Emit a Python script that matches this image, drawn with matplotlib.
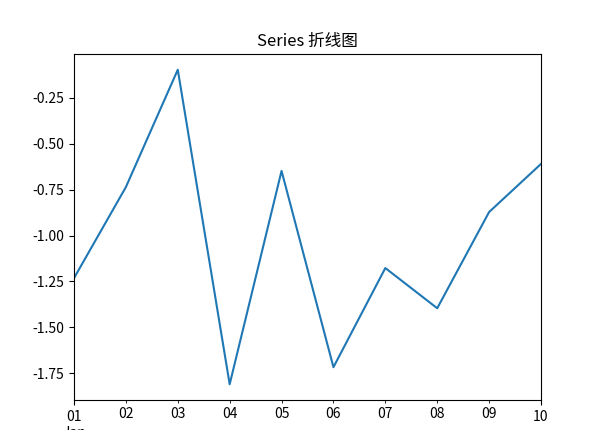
import matplotlib
matplotlib.use('Agg')
import matplotlib.pyplot as plt
import numpy as np
import pandas as pd

plt.rcParams['font.family'] = ['Noto Sans CJK SC', 'DejaVu Sans']
plt.rcParams['axes.unicode_minus'] = False

dates = pd.date_range('2020-01-01', periods=10, freq='D')
values = [-1.232, -0.736, -0.097, -1.81, -0.648, -1.717, -1.177, -1.396, -0.872, -0.610]

s = pd.Series(values, index=dates)

fig = plt.figure(figsize=(6, 4.3), dpi=100)
ax = fig.add_axes([74 / 600, 30 / 430, 467 / 600, 346 / 430])
s.plot(ax=ax)
ax.set_title('Series 折线图')

fig.savefig('out.png', dpi=100)
